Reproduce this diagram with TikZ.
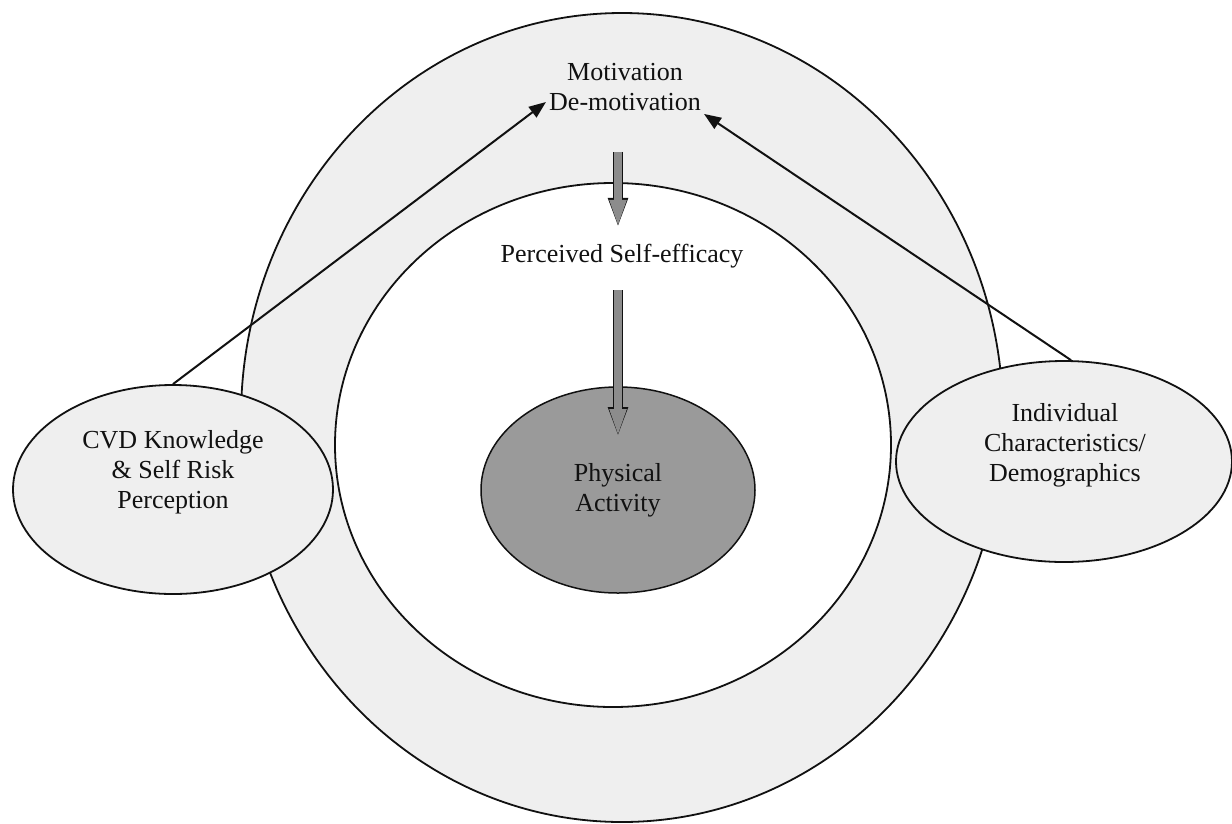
\documentclass[tikz,border=0pt]{standalone}
\usepackage{fontspec}
\setmainfont{Liberation Serif}
\usetikzlibrary{arrows.meta,shapes.geometric,positioning,calc}
\definecolor{paper}{HTML}{FFFFFF}
\definecolor{ink}{HTML}{111111}
\definecolor{stipple}{HTML}{EFEFEF}
\definecolor{core}{HTML}{9A9A9A}
\definecolor{shaft}{HTML}{8C8C8C}
\newcommand{\RingW}{762pt}
\newcommand{\RingH}{809pt}

\begin{document}
\begin{tikzpicture}[
    x=1pt, y=-1pt,
    font=\fontsize{26}{30}\selectfont, ink,
    ring/.style={ellipse, draw=ink, line width=1.8pt, inner sep=0pt},
    edge/.style={-{Triangle[length=17pt,width=13pt]}, line width=2pt, draw=ink},
    blockarrow/.style={line width=8pt, draw=shaft, -{Triangle[length=28pt,width=15pt]},
      preaction={draw=ink, line width=10.5pt, -{Triangle[length=30pt,width=18pt]}}},
    caption/.style={align=center, inner sep=3pt},
  ]
\useasboundingbox (0,0) rectangle (1232,823);

% --- The rings, outside in ----------------------------------------------------------
\node[ring, fill=stipple, minimum width=\RingW, minimum height=\RingH] (outer) at (622,417.5) {};
\node[ring, fill=stipple, minimum width=320pt, minimum height=209pt] (cvd) at (173,489.5) {};
\node[ring, fill=stipple, minimum width=336pt, minimum height=201pt] (indiv) at (1064,461.5) {};
\node[ring, fill=paper, minimum width=556pt, minimum height=524pt] (inner) at (613,445) {};
\node[ring, fill=core, line width=1.5pt, minimum width=274pt, minimum height=206pt, caption] (pa) at (618,490) {Physical\\Activity};

% --- Texts ----------------------------------------------------------------------------
\node[caption] (cvdtext) at (173,472) {CVD Knowledge\\\& Self Risk\\Perception};
\node[caption] (indivtext) at (1065,445) {Individual\\Characteristics/\\Demographics};
\node[caption] (motiv) at (625,72) {Motivation};
\node[caption] (demotiv) at (625,102) {De-motivation};
\node[caption] (percv) at (622,256) {Perceived Self-efficacy};

% --- Influences -----------------------------------------------------------------------
\draw[edge] (cvd.north) -- (demotiv.west);
\draw[edge] (indiv.86) -- (demotiv.south east);
\draw[blockarrow, shorten <=38pt, shorten >=13pt] (demotiv.south -| pa.north) -- (percv.north -| pa.north);
\draw[blockarrow, shorten <=19pt, shorten >=53pt] (percv.south -| pa.north) -- (pa.center);

\end{tikzpicture}
\end{document}
